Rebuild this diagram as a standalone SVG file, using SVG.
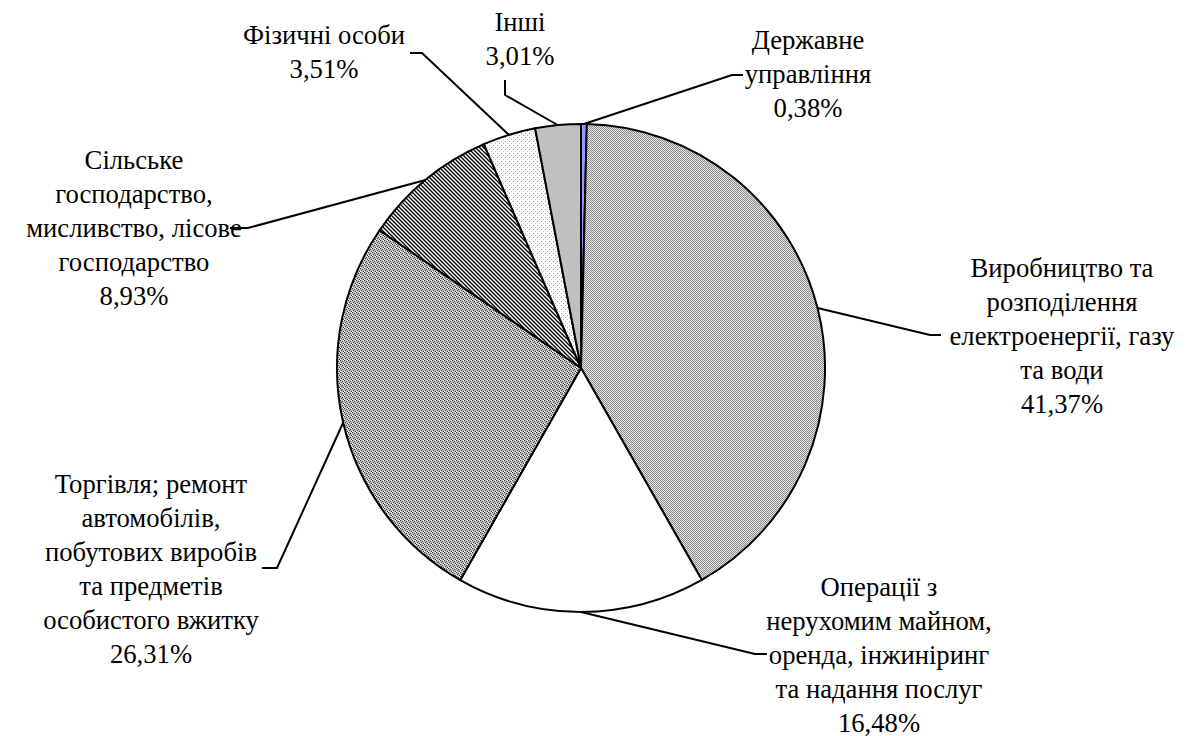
<svg xmlns="http://www.w3.org/2000/svg" width="1189" height="736" viewBox="0 0 1189 736">
<style>
text{font-family:"Liberation Serif","Times New Roman",serif;font-size:26.67px;fill:#000;text-anchor:middle}
.slice{stroke:#000;stroke-width:2;stroke-linejoin:round}
.lead{fill:none;stroke:#000;stroke-width:2}
</style>
<defs>
<pattern id="pGrid" width="2" height="2" patternUnits="userSpaceOnUse">
<rect width="2" height="2" fill="#e6e6e6"/>
<rect width="1" height="1" fill="#8a8a8a"/>
<rect x="1" y="1" width="1" height="1" fill="#8a8a8a"/>
</pattern>
<pattern id="pDots" width="4" height="4" patternUnits="userSpaceOnUse">
<rect width="4" height="4" fill="#bdbdbd"/>
<rect width="1" height="1" fill="#333"/>
<rect x="2" y="1" width="1" height="1" fill="#444"/>
<rect x="1" y="2" width="1" height="1" fill="#555"/>
<rect x="3" y="3" width="1" height="1" fill="#333"/>
<rect x="3" y="0" width="1" height="1" fill="#fff"/>
<rect x="0" y="3" width="1" height="1" fill="#fff"/>
</pattern>
<pattern id="pHatch" width="4" height="4" patternUnits="userSpaceOnUse">
<rect width="4" height="4" fill="#fff"/>
<path d="M-1,3 L1,5 M0,0 L4,4 M3,-1 L5,1" stroke="#000" stroke-width="1.3"/>
</pattern>
<pattern id="pSparse" width="4" height="4" patternUnits="userSpaceOnUse">
<rect width="4" height="4" fill="#fff"/>
<rect x="1" y="1" width="1" height="1" fill="#999"/>
<rect x="3" y="3" width="1" height="1" fill="#bbb"/>
</pattern>
</defs>
<g id="pie">
<g id="slice-derzh"><path class="slice" fill="#9999ff" d="M581,368 L581,124 A244,244 0 0 1 586.83,124.07 Z"/></g>
<g id="slice-vyrob"><path class="slice" fill="url(#pGrid)" d="M581,368 L586.83,124.07 A244,244 0 0 1 701.83,579.99 Z"/></g>
<g id="slice-operac"><path class="slice" fill="#fff" d="M581,368 L701.83,579.99 A244,244 0 0 1 460.29,580.06 Z"/></g>
<g id="slice-torg"><path class="slice" fill="url(#pDots)" d="M581,368 L460.29,580.06 A244,244 0 0 1 379.60,230.24 Z"/></g>
<g id="slice-silske"><path class="slice" fill="url(#pHatch)" d="M581,368 L379.60,230.24 A244,244 0 0 1 483.82,144.18 Z"/></g>
<g id="slice-fiz"><path class="slice" fill="url(#pSparse)" d="M581,368 L483.82,144.18 A244,244 0 0 1 535.10,128.35 Z"/></g>
<g id="slice-inshi"><path class="slice" fill="#c0c0c0" d="M581,368 L535.10,128.35 A244,244 0 0 1 581,124 Z"/></g>
</g>
<g id="connectors">
<path class="lead" d="M583.9,124 L732,75 L743,75"/>
<path class="lead" d="M557.6,125 L505,95 L505,80"/>
<path class="lead" d="M509,135 L422,53 L410,53"/>
<path class="lead" d="M425.5,180 L248,228 L230,228"/>
<path class="lead" d="M817.6,308 L930,335 L941,335"/>
<path class="lead" d="M581,612 L755,654 L767,654"/>
<path class="lead" d="M343,423 L277,568 L262,568"/>
</g>
<g id="label-derzh"><text x="808" y="49">Державне</text><text x="808" y="83">управління</text><text x="808" y="117">0,38%</text></g>
<g id="label-inshi"><text x="520" y="31">Інші</text><text x="520" y="65">3,01%</text></g>
<g id="label-fiz"><text x="324" y="44">Фізичні особи</text><text x="324" y="78">3,51%</text></g>
<g id="label-silske"><text x="134" y="169">Сільське</text><text x="134" y="203">господарство,</text><text x="134" y="237">мисливство, лісове</text><text x="134" y="271">господарство</text><text x="134" y="305">8,93%</text></g>
<g id="label-vyrob"><text x="1062" y="277">Виробництво та</text><text x="1062" y="311">розподілення</text><text x="1062" y="345">електроенергії, газу</text><text x="1062" y="379">та води</text><text x="1062" y="413">41,37%</text></g>
<g id="label-operac"><text x="879" y="596">Операції з</text><text x="879" y="630">нерухомим майном,</text><text x="879" y="664">оренда, інжиніринг</text><text x="879" y="698">та надання послуг</text><text x="879" y="732">16,48%</text></g>
<g id="label-torg"><text x="151" y="493">Торгівля; ремонт</text><text x="151" y="527">автомобілів,</text><text x="151" y="561">побутових виробів</text><text x="151" y="595">та предметів</text><text x="151" y="629">особистого вжитку</text><text x="151" y="663">26,31%</text></g>
</svg>
